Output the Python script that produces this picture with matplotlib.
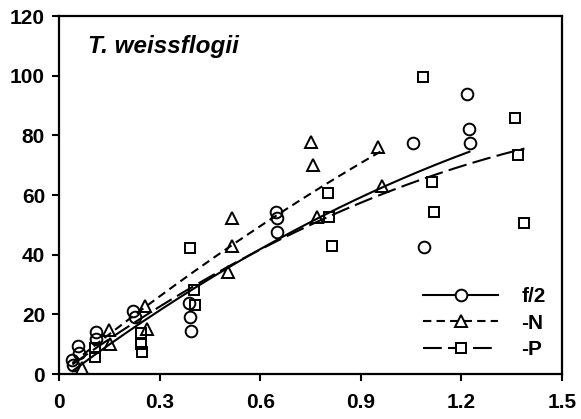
import numpy as np
import matplotlib
matplotlib.use("Agg")
import matplotlib.pyplot as plt
from matplotlib.lines import Line2D

# ---- data ----
f2_x = [0.038, 0.043, 0.058, 0.060, 0.110, 0.110, 0.222, 0.227, 0.388, 0.391, 0.393,
        0.647, 0.649, 0.651, 1.057, 1.087, 1.216, 1.224, 1.226]
f2_y = [4.7, 3.0, 9.5, 6.9, 14.2, 11.6, 21.2, 19.2, 23.9, 19.2, 14.5,
        54.4, 52.2, 47.5, 77.3, 42.7, 93.9, 82.1, 77.3]

n_x = [0.068, 0.149, 0.152, 0.256, 0.261, 0.505, 0.515, 0.515, 0.751, 0.756, 0.770, 0.952, 0.964]
n_y = [1.9, 14.7, 10.0, 22.8, 15.0, 34.3, 43.0, 52.2, 77.9, 70.1, 52.5, 76.2, 63.0]

p_x = [0.107, 0.107, 0.245, 0.245, 0.247, 0.391, 0.403, 0.406, 0.801, 0.806, 0.813,
       1.085, 1.113, 1.119, 1.360, 1.368, 1.388]
p_y = [8.6, 5.8, 13.6, 10.0, 7.5, 42.4, 28.2, 23.1, 60.8, 52.7, 43.0,
       99.7, 64.4, 54.3, 85.7, 73.3, 50.7]

# fitted curves: quadratic coefficients (c0, c1, c2) and x-range
f2_fit = (-2.35, 84.08, -17.39)
f2_range = (0.04, 1.224)
n_fit = (0.07, 90.5, -13.35)
n_range = (0.04, 0.967)
p_fit = (0.0, 81.0, -19.13)
p_range = (0.04, 1.388)

labels = ["f/2", "-N", "-P"]
x_ticks = [0, 0.3, 0.6, 0.9, 1.2, 1.5]
x_tick_labels = ["0", "0.3", "0.6", "0.9", "1.2", "1.5"]
y_ticks = [0, 20, 40, 60, 80, 100, 120]

plt.rcParams['font.family'] = ['Liberation Sans', 'DejaVu Sans']

fig = plt.figure(figsize=(5.81, 4.19), dpi=100)
ax = fig.add_axes([59/581, 1-374/419, (562-59)/581, (374-16)/419])

def curve(coef, rng):
    xs = np.linspace(rng[0], rng[1], 200)
    return xs, coef[0] + coef[1]*xs + coef[2]*xs**2

lw = 1.5
mew = 1.4
# f/2
xs, ys = curve(f2_fit, f2_range)
ax.plot(xs, ys, color='black', lw=lw, linestyle='-')
ax.plot(f2_x, f2_y, linestyle='none', marker='o', ms=8.4, mfc='none', mec='black', mew=mew, clip_on=False)
# -N
xs, ys = curve(n_fit, n_range)
l2, = ax.plot(xs, ys, color='black', lw=lw)
l2.set_dashes((4, 2.5))
ax.plot(n_x, n_y, linestyle='none', marker='^', ms=8.7, mfc='none', mec='black', mew=mew, clip_on=False)
# -P
xs, ys = curve(p_fit, p_range)
l3, = ax.plot(xs, ys, color='black', lw=lw)
l3.set_dashes((9, 3))
ax.plot(p_x, p_y, linestyle='none', marker='s', ms=7.7, mfc='none', mec='black', mew=mew, clip_on=False)

# legend handles
h1 = Line2D([], [], color='black', lw=lw, linestyle='-', marker='o', ms=8.4, mfc='white', mec='black', mew=mew)
h2 = Line2D([], [], color='black', lw=lw, marker='^', ms=8.7, mfc='white', mec='black', mew=mew)
h2.set_dashes((4, 2.5))
h3 = Line2D([], [], color='black', lw=lw, marker='s', ms=7.7, mfc='white', mec='black', mew=mew)
h3.set_dashes((9, 3))
leg = ax.legend([h1, h2, h3], labels, loc='lower right', frameon=False,
                handlelength=3.6, handletextpad=1.1, labelspacing=0.35,
                prop={'weight': 'bold', 'size': 15}, bbox_to_anchor=(1.005, -0.01))

ax.set_xlim(0, 1.5)
ax.set_ylim(0, 120)
ax.set_xticks(x_ticks)
ax.set_xticklabels(x_tick_labels)
ax.set_yticks(y_ticks)
for lab in ax.get_xticklabels() + ax.get_yticklabels():
    lab.set_fontweight('bold')
    lab.set_fontsize(15)
ax.tick_params(direction='out', length=5, width=1.5, pad=5)
ax.tick_params(axis='x', pad=9)
for s in ax.spines.values():
    s.set_linewidth(1.6)

ax.text(0.058, 0.915, "T. weissflogii", transform=ax.transAxes, fontsize=17.5,
        fontweight='bold', fontstyle='italic', va='center', ha='left')

fig.savefig("out.png", dpi=100)
